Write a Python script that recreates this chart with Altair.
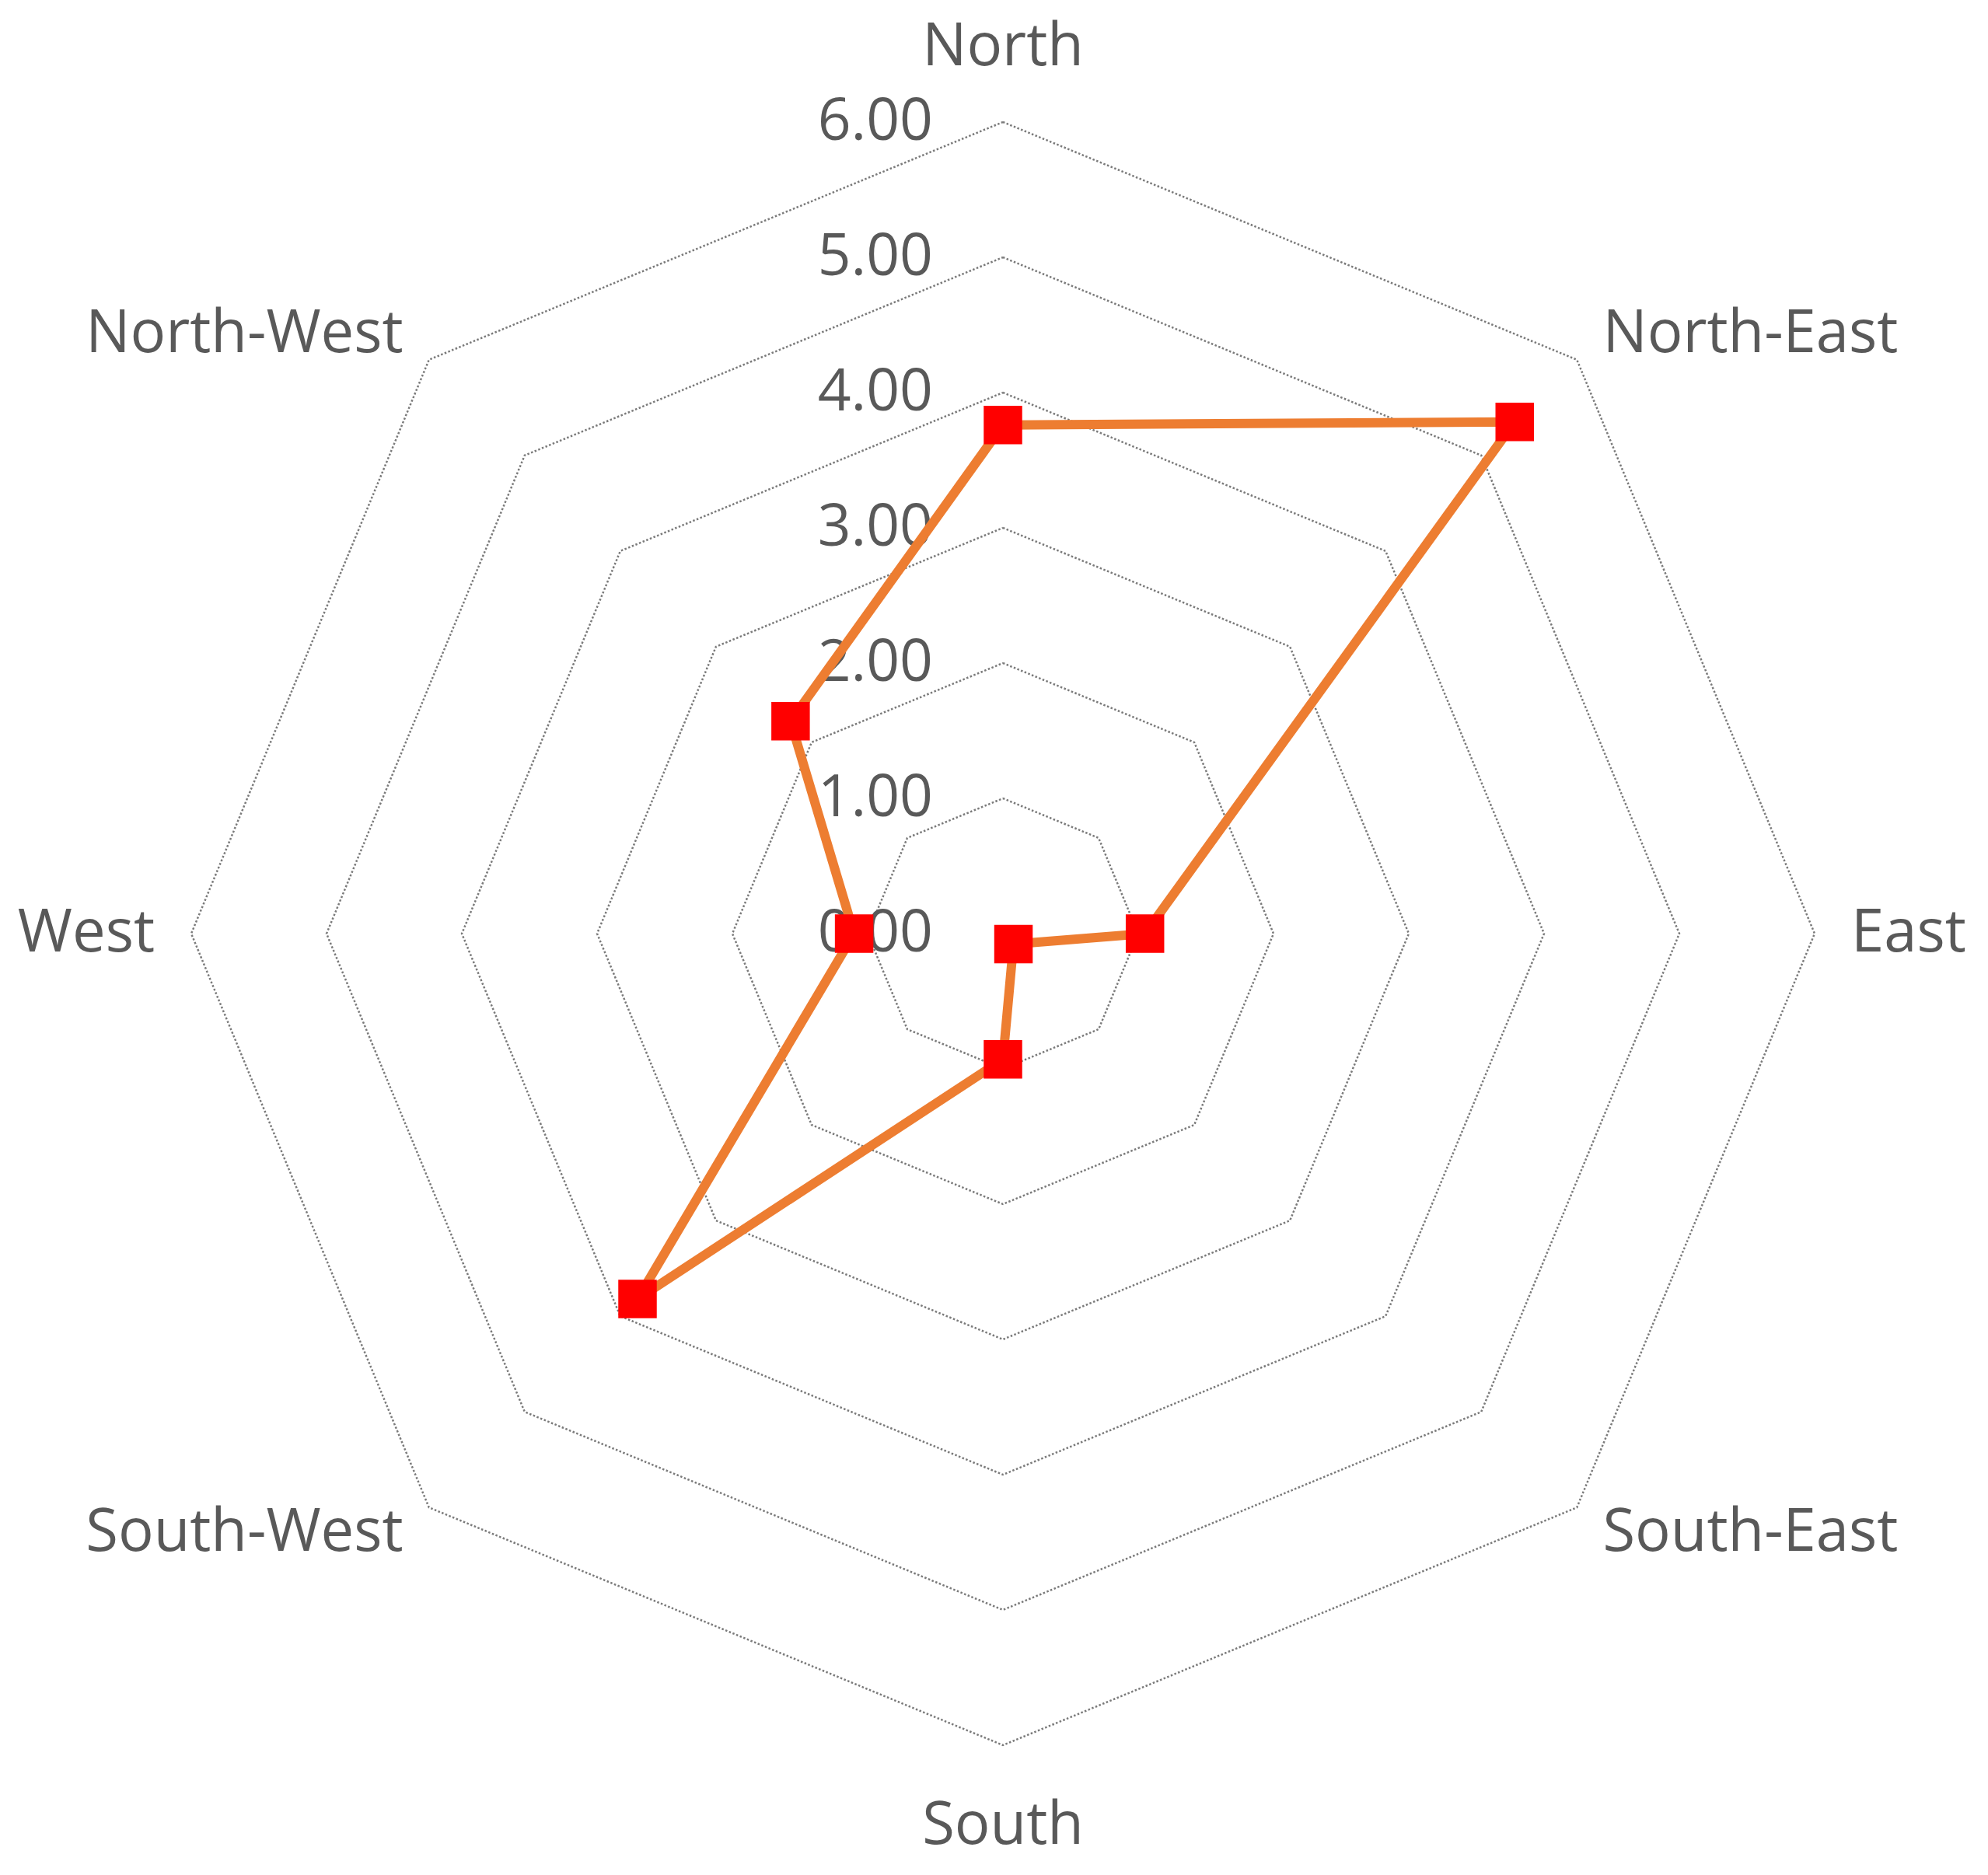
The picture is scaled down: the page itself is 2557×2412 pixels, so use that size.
import altair as alt
import pandas as pd

# ---- data ----
categories = ["North", "North-East", "East", "South-East",
              "South", "South-West", "West", "North-West"]
values = [3.76, 5.35, 1.05, 0.11, 0.93, 3.82, 1.10, 2.22]
ring_values = [0, 1, 2, 3, 4, 5, 6]
ring_labels = ["0.00", "1.00", "2.00", "3.00", "4.00", "5.00", "6.00"]

n = len(categories)

# closed polygon for the series
series_df = pd.DataFrame({
    "idx": list(range(n)) + [n],
    "category": categories + [categories[0]],
    "value": values + [values[0]],
})

# grid rings (octagons)
ring_rows = []
for r in ring_values[1:]:
    for k in range(n + 1):
        ring_rows.append({"ring": r, "k": k})
ring_df = pd.DataFrame(ring_rows)

ring_label_df = pd.DataFrame({"ring": ring_values, "label": ring_labels})
cat_df = pd.DataFrame({"idx": list(range(n)), "category": categories})

# ---- scales: pixel-aligned so the center sits where the reference has it ----
S = 174.0          # px per unit
W, H = 2540, 2394
cx, cy = 1282.0, 1193.0
xs = alt.Scale(domain=[-cx / S, (W - cx) / S], zero=False, nice=False)
ys = alt.Scale(domain=[(cy - H) / S, cy / S], zero=False, nice=False)

X = lambda f: alt.X(f, type="quantitative", scale=xs, axis=None)
Y = lambda f: alt.Y(f, type="quantitative", scale=ys, axis=None)

FONT = "Open Sans"
TXT = "#595959"

rings = alt.Chart(ring_df).transform_calculate(
    ang="datum.k * PI / 4",
    x="datum.ring * sin(datum.ang)",
    y="datum.ring * cos(datum.ang)",
).mark_line(color="#7a7a7a", strokeWidth=2.5, strokeDash=[2.5, 2.5]).encode(
    x=X("x"), y=Y("y"), detail="ring:N", order="k:Q"
)

ring_text = alt.Chart(ring_label_df).transform_calculate(
    x="0", y="datum.ring"
).mark_text(align="right", baseline="middle", dx=-90, font=FONT,
            fontSize=75, color=TXT).encode(
    x=X("x"), y=Y("y"), text="label:N"
)

cat_base = alt.Chart(cat_df).transform_calculate(
    ang="datum.idx * PI / 4",
    rl="datum.idx == 0 ? 6.55 : (datum.idx == 4 ? 6.6 : 6.27)",
    x="datum.rl * sin(datum.ang)",
    y="datum.rl * cos(datum.ang)",
)
cat_left = cat_base.transform_filter("datum.idx >= 1 && datum.idx <= 3").mark_text(
    align="left", baseline="middle", font=FONT, fontSize=76, color=TXT
).encode(x=X("x"), y=Y("y"), text="category:N")
cat_right = cat_base.transform_filter("datum.idx >= 5").mark_text(
    align="right", baseline="middle", font=FONT, fontSize=76, color=TXT
).encode(x=X("x"), y=Y("y"), text="category:N")
cat_center = cat_base.transform_filter("datum.idx % 4 == 0").mark_text(
    align="center", baseline="middle", font=FONT, fontSize=76, color=TXT
).encode(x=X("x"), y=Y("y"), text="category:N")

series_base = alt.Chart(series_df).transform_calculate(
    ang="datum.idx * PI / 4",
    x="datum.value * sin(datum.ang)",
    y="datum.value * cos(datum.ang)",
)
line = series_base.mark_line(color="#ED7D31", strokeWidth=12,
                             strokeJoin="round").encode(
    x=X("x"), y=Y("y"), order="idx:Q"
)
points = series_base.transform_filter(f"datum.idx < {n}").mark_point(
    shape="square", filled=True, size=2450, color="#FF0000", opacity=1
).encode(x=X("x"), y=Y("y"))

chart = alt.layer(
    rings, ring_text, cat_left, cat_right, cat_center, line, points
).properties(
    width=W, height=H, padding=0, autosize="none", background="white"
).configure_view(stroke=None)

chart.save("out.html", embed_options={"renderer": "svg", "actions": False})
